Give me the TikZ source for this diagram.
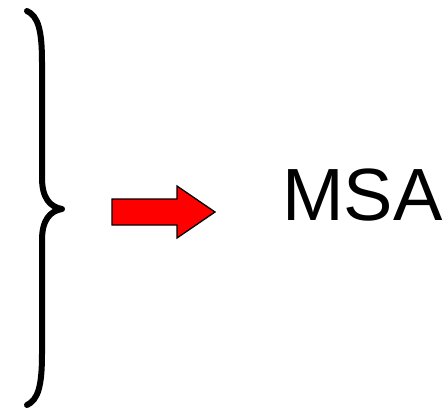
\documentclass[tikz,border=0pt]{standalone}
\usepackage{fontspec}
\setmainfont{Liberation Sans}
\begin{document}
\begin{tikzpicture}[x=1pt,y=-1pt,
  bracestyle/.style={line width=6pt,line cap=round,line join=round},
  arrowstyle/.style={fill=red,draw=black,line width=1.3pt},
  labelstyle/.style={font=\fontsize{74}{74}\selectfont,inner sep=0pt,anchor=base west}]
\useasboundingbox (0,0) rectangle (444,408);
\draw[bracestyle] (27,11) .. controls (38,16) and (42,30) .. (42,62)
  -- (42,178) .. controls (42,198) and (50,207) .. (62,209)
  .. controls (50,211) and (42,220) .. (42,240)
  -- (42,354) .. controls (42,386) and (38,400) .. (27,405);
\draw[arrowstyle] (112,199) -- (177,199) -- (177,186) -- (215,212)
  -- (177,238) -- (177,225) -- (112,225) -- cycle;
\node[labelstyle] (msa) at (282,220) {MSA};
\end{tikzpicture}
\end{document}
